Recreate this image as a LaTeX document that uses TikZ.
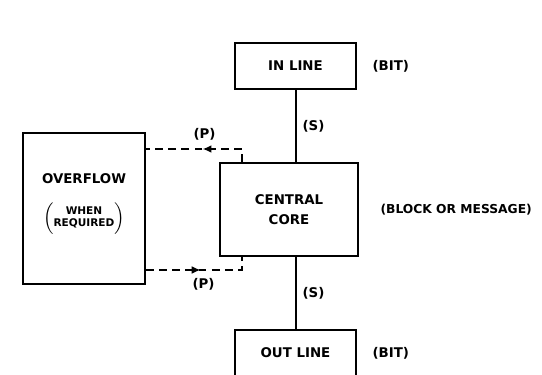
\documentclass[tikz,border=0pt]{standalone}
\usepackage{fontspec}
\setmainfont{DejaVu Sans}
\usetikzlibrary{positioning,arrows.meta,decorations.markings}

\tikzset{
  blk/.style={draw, line width=1pt},
  midarrow/.style={postaction={decorate}, decoration={markings, mark=at position #1 with {\arrow{Latex[length=5pt,width=4.5pt]}}}},
  dsh/.style={line width=0.9pt, dash pattern=on 4.5pt off 3pt}
}

\begin{document}
\begin{tikzpicture}[x=0.02cm, y=-0.02cm, every node/.style={font=\bfseries\fontsize{7.6}{9}\selectfont}, line width=0.9pt]
  \useasboundingbox (0,0) rectangle (542,375);
  \clip (0,0) rectangle (542,375);
  % boxes
  \node[blk, minimum width=2.42cm, minimum height=0.92cm] (inline) at (295.5,66) {IN LINE};
  \node[blk, minimum width=2.76cm, minimum height=1.86cm, align=center] (core) at (289,209.5) {CENTRAL\\[2pt]CORE};
  \node[blk, minimum width=2.44cm, minimum height=3.02cm] (overflow) at (84,208.5) {\begin{tabular}{@{}c@{}}OVERFLOW\\[8pt]{\fontsize{6}{7}\selectfont$\left(\begin{tabular}{@{}c@{}}WHEN\\REQUIRED\end{tabular}\right)$}\\[-3pt] \strut\end{tabular}};
  \node[blk, minimum width=2.42cm, minimum height=0.92cm] (outline) at (295.5,353) {OUT LINE};
  % side notes
  \node[right=0.18cm of inline] (bitin) {(BIT)};
  \node[right=0.3cm of core, font=\bfseries\fontsize{7}{9}\selectfont] (blockmsg) {(BLOCK OR MESSAGE)};
  \node[right=0.18cm of outline] (bitout) {(BIT)};
  % serial links
  \draw (inline.south -| 296,0) -- node[right] {(S)} (core.north -| 296,0);
  \draw (core.south -| 296,0) -- node[right] {(S)} (outline.north -| 296,0);
  % overflow links
  \coordinate (ptop) at (242,149);
  \coordinate (pbot) at (242,270);
  \draw[dsh, midarrow=0.48] (core.north -| ptop) -- (ptop) -- node[pos=0.39, above=1pt] {(P)} (overflow.east |- ptop);
  \draw[dsh, midarrow=0.5] (overflow.east |- pbot) -- node[pos=0.6, below=1pt] {(P)} (pbot) -- (core.south -| pbot);
\end{tikzpicture}
\end{document}
